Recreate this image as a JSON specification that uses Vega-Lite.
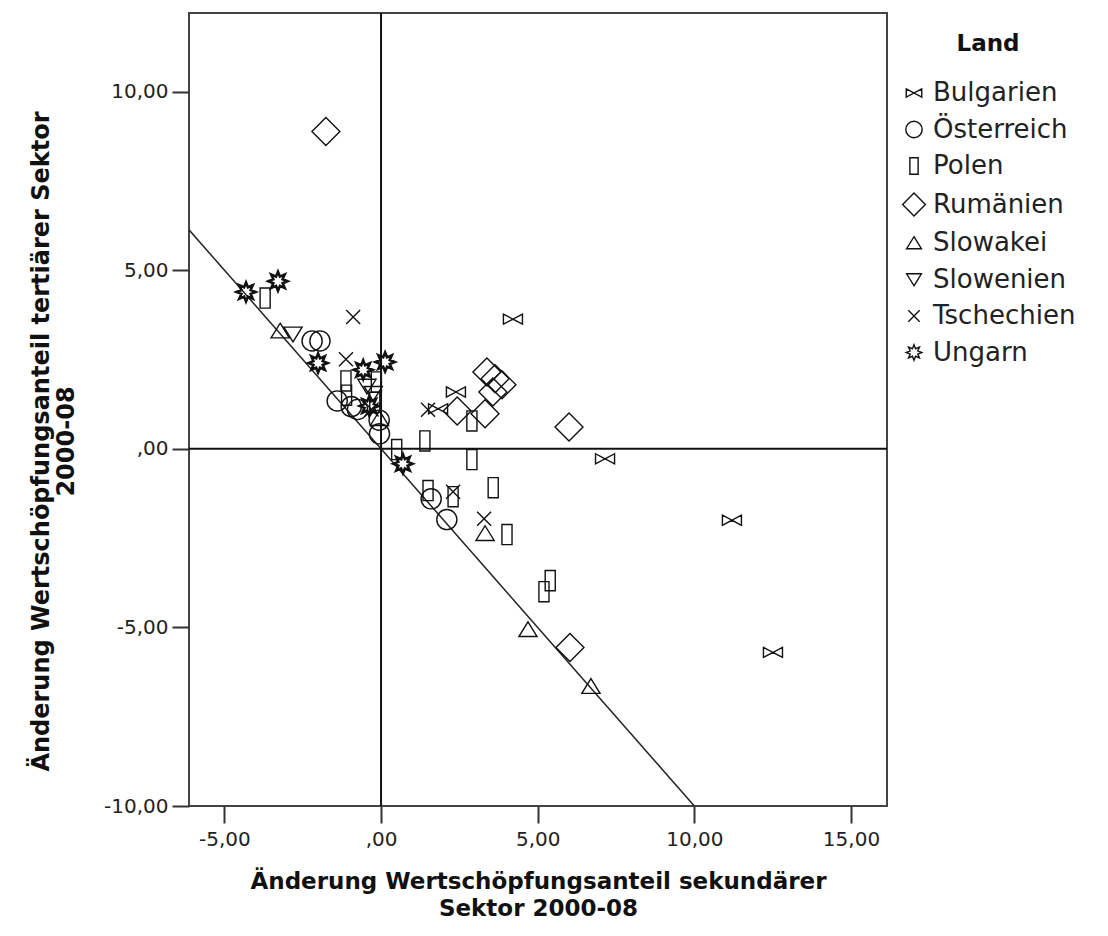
{
  "$schema": "https://vega.github.io/schema/vega-lite/v6.json",
  "autosize": {"type": "none"},
  "width": 698,
  "height": 793,
  "padding": {"left": 189, "top": 13, "right": 221, "bottom": 130},
  "background": "white",
  "config": {
    "view": {"stroke": "#444", "strokeWidth": 2},
    "font": "DejaVu Sans"
  },
  "datasets": {
    "pts": [
      {"Land": "Bulgarien", "x": 4.21, "y": 3.63},
      {"Land": "Bulgarien", "x": 2.39, "y": 1.59},
      {"Land": "Bulgarien", "x": 1.82, "y": 1.12},
      {"Land": "Bulgarien", "x": 7.15, "y": -0.28},
      {"Land": "Bulgarien", "x": 11.2, "y": -2.0},
      {"Land": "Bulgarien", "x": 12.51, "y": -5.7},
      {"Land": "Österreich", "x": -2.2, "y": 3.02},
      {"Land": "Österreich", "x": -1.95, "y": 3.02},
      {"Land": "Österreich", "x": -1.4, "y": 1.34},
      {"Land": "Österreich", "x": -0.95, "y": 1.18},
      {"Land": "Österreich", "x": -0.75, "y": 1.1},
      {"Land": "Österreich", "x": -0.06, "y": 0.8},
      {"Land": "Österreich", "x": -0.05, "y": 0.42},
      {"Land": "Österreich", "x": 1.6, "y": -1.4},
      {"Land": "Österreich", "x": 2.1, "y": -1.98},
      {"Land": "Polen", "x": -3.7, "y": 4.22},
      {"Land": "Polen", "x": -1.12, "y": 1.9},
      {"Land": "Polen", "x": -1.1, "y": 1.5},
      {"Land": "Polen", "x": -0.15, "y": 1.87},
      {"Land": "Polen", "x": -0.2, "y": 1.3},
      {"Land": "Polen", "x": 0.5, "y": -0.02},
      {"Land": "Polen", "x": 1.4, "y": 0.22},
      {"Land": "Polen", "x": 2.9, "y": 0.78},
      {"Land": "Polen", "x": 2.9, "y": -0.3},
      {"Land": "Polen", "x": 3.58, "y": -1.09},
      {"Land": "Polen", "x": 1.5, "y": -1.17},
      {"Land": "Polen", "x": 2.3, "y": -1.34},
      {"Land": "Polen", "x": 4.02, "y": -2.4},
      {"Land": "Polen", "x": 5.4, "y": -3.69},
      {"Land": "Polen", "x": 5.2, "y": -4.0},
      {"Land": "Rumänien", "x": -1.76, "y": 8.88},
      {"Land": "Rumänien", "x": 3.38, "y": 2.15},
      {"Land": "Rumänien", "x": 3.64, "y": 1.96},
      {"Land": "Rumänien", "x": 3.86, "y": 1.79},
      {"Land": "Rumänien", "x": 3.57, "y": 1.59},
      {"Land": "Rumänien", "x": 3.32, "y": 0.98},
      {"Land": "Rumänien", "x": 2.43, "y": 1.06},
      {"Land": "Rumänien", "x": 6.0, "y": 0.61},
      {"Land": "Rumänien", "x": 6.03, "y": -5.56},
      {"Land": "Slowakei", "x": -3.22, "y": 3.3},
      {"Land": "Slowakei", "x": -0.05, "y": 0.85},
      {"Land": "Slowakei", "x": 3.32, "y": -2.37},
      {"Land": "Slowakei", "x": 4.69, "y": -5.06},
      {"Land": "Slowakei", "x": 6.7, "y": -6.65},
      {"Land": "Slowenien", "x": -2.81, "y": 3.21},
      {"Land": "Slowenien", "x": -0.45, "y": 1.75},
      {"Land": "Slowenien", "x": -0.25, "y": 1.55},
      {"Land": "Tschechien", "x": -0.89, "y": 3.69},
      {"Land": "Tschechien", "x": -1.12, "y": 2.51},
      {"Land": "Tschechien", "x": 1.5, "y": 1.09},
      {"Land": "Tschechien", "x": 3.29, "y": -1.96},
      {"Land": "Tschechien", "x": 2.3, "y": -1.2},
      {"Land": "Tschechien", "x": -0.3, "y": 1.1},
      {"Land": "Ungarn", "x": -4.31, "y": 4.39},
      {"Land": "Ungarn", "x": -3.29, "y": 4.69},
      {"Land": "Ungarn", "x": -2.01, "y": 2.4},
      {"Land": "Ungarn", "x": -0.57, "y": 2.21},
      {"Land": "Ungarn", "x": 0.13, "y": 2.43},
      {"Land": "Ungarn", "x": -0.38, "y": 1.2},
      {"Land": "Ungarn", "x": 0.7, "y": -0.42}
    ],
    "fit": [
      {"x": -6.13, "y": 6.13},
      {"x": 10.0, "y": -10.0}
    ],
    "zero": [{"v": 0}]
  },
  "layer": [
    {
      "data": {"name": "zero"},
      "mark": {"type": "rule", "color": "#111", "strokeWidth": 2},
      "encoding": {"x": {"field": "v", "type": "quantitative"}}
    },
    {
      "data": {"name": "zero"},
      "mark": {"type": "rule", "color": "#111", "strokeWidth": 2},
      "encoding": {"y": {"field": "v", "type": "quantitative"}}
    },
    {
      "data": {"name": "fit"},
      "mark": {"type": "line", "color": "#222", "strokeWidth": 1.5, "clip": true},
      "encoding": {
        "x": {"field": "x", "type": "quantitative"},
        "y": {"field": "y", "type": "quantitative"}
      }
    },
    {
      "data": {"name": "pts"},
      "mark": {"type": "point", "filled": false, "stroke": "#111", "size": 784, "opacity": 1},
      "encoding": {
        "x": {
          "field": "x", "type": "quantitative",
          "scale": {"domain": [-6.13, 16.15], "nice": false, "zero": false},
          "axis": {
            "values": [-5, 0, 5, 10, 15],
            "labelExpr": "datum.value == 0 ? ',00' : (datum.value < 0 ? '-' : '') + replace(format(abs(datum.value), '.2f'), '.', ',')",
            "title": ["Änderung Wertschöpfungsanteil sekundärer", "Sektor 2000-08"],
            "titleFont": "DejaVu Sans", "titleFontSize": 23, "titleFontWeight": "bold", "titleColor": "#111",
            "titlePadding": 21, "titleLineHeight": 27,
            "labelFont": "DejaVu Sans", "labelFontSize": 20, "labelColor": "#222", "labelPadding": 6,
            "tickSize": 17, "tickColor": "#333", "tickWidth": 2,
            "domain": false, "grid": false
          }
        },
        "y": {
          "field": "y", "type": "quantitative",
          "scale": {"domain": [-10, 12.2], "nice": false, "zero": false},
          "axis": {
            "values": [-10, -5, 0, 5, 10],
            "labelExpr": "datum.value == 0 ? ',00' : (datum.value < 0 ? '-' : '') + replace(format(abs(datum.value), '.2f'), '.', ',')",
            "title": ["Änderung Wertschöpfungsanteil tertiärer Sektor", "2000-08"],
            "titleFont": "DejaVu Sans", "titleFontSize": 24, "titleFontWeight": "bold", "titleColor": "#111",
            "titlePadding": 25, "titleLineHeight": 25, "titleY": 428,
            "labelFont": "DejaVu Sans", "labelFontSize": 20, "labelColor": "#222", "labelPadding": 4,
            "tickSize": 17, "tickColor": "#333", "tickWidth": 2,
            "domain": false, "grid": false
          }
        },
        "strokeWidth": {"condition": {"test": "datum.Land == 'Ungarn'", "value": 2.6}, "value": 1.4},
        "shape": {
          "field": "Land", "type": "nominal",
          "scale": {
            "domain": ["Bulgarien", "Österreich", "Polen", "Rumänien", "Slowakei", "Slowenien", "Tschechien", "Ungarn"],
            "range": [
              "M-0.68,-0.36L0,0L-0.68,0.36ZM0.68,-0.36L0,0L0.68,0.36Z",
              "M-0.72,0A0.72,0.72 0 1,0 0.72,0A0.72,0.72 0 1,0 -0.72,0Z",
              "M-0.36,-0.72L0.36,-0.72L0.36,0.72L-0.36,0.72Z",
              "M0,-1L1,0L0,1L-1,0Z",
              "M0,-0.55L0.65,0.5L-0.65,0.5Z",
              "M0,0.55L0.65,-0.5L-0.65,-0.5Z",
              "M-0.5,-0.5L0.5,0.5M-0.5,0.5L0.5,-0.5",
              "M0.68,0L0.333,0.138L0.481,0.481L0.138,0.333L0,0.68L-0.138,0.333L-0.481,0.481L-0.333,0.138L-0.68,0L-0.333,-0.138L-0.481,-0.481L-0.138,-0.333L0,-0.68L0.138,-0.333L0.481,-0.481L0.333,-0.138Z"
            ]
          },
          "legend": {
            "title": "Land",
            "orient": "none", "legendX": 712, "legendY": 20,
            "titleFont": "DejaVu Sans", "titleFontSize": 23, "titleFontWeight": "bold", "titleColor": "#111",
            "titleAnchor": "middle", "titleAlign": "center", "titlePadding": 24,
            "labelFont": "DejaVu Sans", "labelFontSize": 26, "labelColor": "#222", "labelOffset": 6,
            "symbolSize": 520, "symbolStrokeColor": "#111", "symbolFillColor": "transparent", "symbolStrokeWidth": 1.4,
            "rowPadding": 10.5, "labelLimit": 250
          }
        }
      }
    }
  ]
}
